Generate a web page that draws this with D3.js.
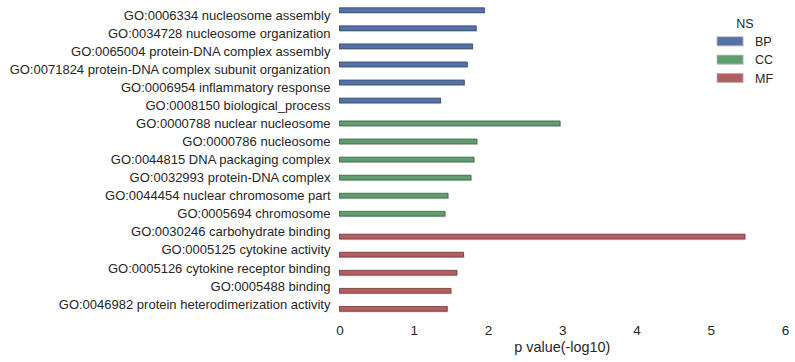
<!DOCTYPE html>
<html>
<head>
<meta charset="utf-8">
<script src="https://cdn.jsdelivr.net/npm/d3@7"></script>
<style>
  body { margin: 0; background: #fff; }
  text { font-family: "Liberation Sans", Arial, sans-serif; fill: #262626; }
</style>
</head>
<body>
<svg id="chart" width="795" height="362"></svg>
<script>
const terms = [
  'GO:0006334 nucleosome assembly',
  'GO:0034728 nucleosome organization',
  'GO:0065004 protein-DNA complex assembly',
  'GO:0071824 protein-DNA complex subunit organization',
  'GO:0006954 inflammatory response',
  'GO:0008150 biological_process',
  'GO:0000788 nuclear nucleosome',
  'GO:0000786 nucleosome',
  'GO:0044815 DNA packaging complex',
  'GO:0032993 protein-DNA complex',
  'GO:0044454 nuclear chromosome part',
  'GO:0005694 chromosome',
  'GO:0030246 carbohydrate binding',
  'GO:0005125 cytokine activity',
  'GO:0005126 cytokine receptor binding',
  'GO:0005488 binding',
  'GO:0046982 protein heterodimerization activity'
];
const namespaces = ['BP', 'BP', 'BP', 'BP', 'BP', 'BP', 'CC', 'CC', 'CC', 'CC', 'CC', 'CC', 'MF', 'MF', 'MF', 'MF', 'MF'];
const pvalues = [1.95, 1.84, 1.79, 1.72, 1.68, 1.36, 2.97, 1.85, 1.81, 1.77, 1.46, 1.42, 5.46, 1.67, 1.58, 1.50, 1.45];
const nsKeys = ['BP', 'CC', 'MF'];
const xTicks = [0, 1, 2, 3, 4, 5, 6];

const data = terms.map((t, i) => ({ term: t, ns: namespaces[i], p: pvalues[i] }));

const svg = d3.select('#chart');
const margin = { top: 6, right: 10, bottom: 49, left: 339.5 };
const width = 785;
const height = 362;

const x = d3.scaleLinear().domain([0, 6]).range([margin.left, width]);
const y = d3.scaleBand().domain(terms).range([margin.top, height - margin.bottom]);
// seaborn-style hue dodge: 0.8 of the band split between the three namespaces
const hue = d3.scaleBand().domain(nsKeys).range([y.bandwidth() * 0.1, y.bandwidth() * 0.9]);

const color = d3.scaleOrdinal().domain(nsKeys).range(['#5472a7', '#5f9e6e', '#b55d60']);
const edge = d3.scaleOrdinal().domain(nsKeys).range(['#34476a', '#3c6446', '#733b3d']);

// Bars: soft gray halo, then the bar itself
const bars = svg.append('g');
bars.selectAll('rect.halo')
  .data(data)
  .join('rect')
  .attr('class', 'halo')
  .attr('x', x(0))
  .attr('y', (d) => y(d.term) + hue(d.ns) + 0.6)
  .attr('width', (d) => x(d.p) - x(0) + 1)
  .attr('height', hue.bandwidth() + 0.6)
  .attr('fill', '#cfcfcf');
bars.selectAll('rect.bar')
  .data(data)
  .join('rect')
  .attr('class', 'bar')
  .attr('x', x(0))
  .attr('y', (d) => y(d.term) + hue(d.ns))
  .attr('width', (d) => x(d.p) - x(0))
  .attr('height', hue.bandwidth())
  .attr('fill', (d) => color(d.ns))
  .attr('stroke', (d) => edge(d.ns))
  .attr('stroke-width', 0.8);

// Y axis labels
const yAxis = svg.append('g')
  .attr('transform', `translate(${margin.left},0)`)
  .call(d3.axisLeft(y).tickSize(0).tickPadding(9));
yAxis.select('.domain').remove();
yAxis.selectAll('text').attr('font-size', 13).attr('fill', '#262626').attr('dy', '0.36em');

// X axis
const xAxis = svg.append('g')
  .attr('transform', `translate(0,${height - margin.bottom})`)
  .call(d3.axisBottom(x).tickValues(xTicks).tickFormat(d3.format('d')).tickSize(0).tickPadding(12));
xAxis.select('.domain').remove();
xAxis.selectAll('text').attr('font-size', 13.5).attr('fill', '#262626');

svg.append('text')
  .attr('x', (x(0) + x(6)) / 2)
  .attr('y', 352)
  .attr('text-anchor', 'middle')
  .attr('font-size', 14.4)
  .text('p value(-log10)');

// Legend
const legend = svg.append('g').attr('transform', 'translate(717,0)');
legend.append('text')
  .attr('x', 28)
  .attr('y', 28)
  .attr('text-anchor', 'middle')
  .attr('font-size', 12.5)
  .text('NS');
const items = legend.selectAll('g.item')
  .data(nsKeys)
  .join('g')
  .attr('class', 'item')
  .attr('transform', (d, i) => `translate(0,${36.8 + i * 18.3})`);
items.append('rect')
  .attr('x', 0.5).attr('y', 0.5)
  .attr('width', 26).attr('height', 9)
  .attr('fill', '#cfcfcf');
items.append('rect')
  .attr('width', 26).attr('height', 9)
  .attr('fill', (d) => color(d))
  .attr('stroke', '#bbb')
  .attr('stroke-width', 0.8);
items.append('text')
  .attr('x', 38)
  .attr('y', 4.8)
  .attr('dy', '0.36em')
  .attr('font-size', 12.5)
  .text((d) => d);
</script>
</body>
</html>
